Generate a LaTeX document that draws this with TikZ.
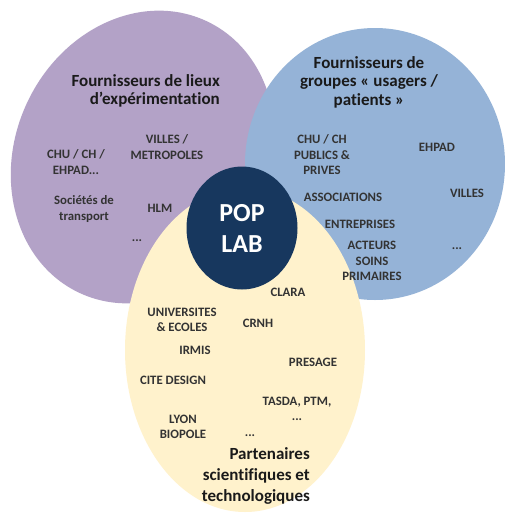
\documentclass[tikz,border=0pt]{standalone}
\usepackage{fontspec}
\setmainfont{Carlito}[Ligatures=NoCommon]
\usetikzlibrary{shapes.geometric}
\definecolor{lieuxpurple}{HTML}{B3A2C7}
\definecolor{groupesblue}{HTML}{95B3D7}
\definecolor{partyellow}{HTML}{FFF2CC}
\definecolor{popnavy}{HTML}{17375E}
\definecolor{titletext}{HTML}{1A1A1A}
\definecolor{labeltext}{HTML}{333333}

\begin{document}
\begin{tikzpicture}[x=1pt,y=-1pt,
    zone/.style={ellipse,inner sep=0pt},
    titre/.style={font=\bfseries\fontsize{17}{18.5}\selectfont,text=titletext,inner sep=0pt},
    lbl/.style={font=\bfseries\fontsize{12.8}{15.5}\selectfont,text=labeltext,align=center,inner sep=0pt}]
                    \useasboundingbox[fill=white] (0,0) rectangle (505,515);

                    \node[zone,fill=lieuxpurple,minimum width=256pt,minimum height=300pt,rotate=-25] at (143,157) (lieux) {};
                    \node[zone,fill=groupesblue,minimum width=260pt,minimum height=272pt] at (375,164) (groupes) {};
                    \node[zone,fill=partyellow,minimum width=240pt,minimum height=324pt] at (245,350) (partenaires) {};
                    \node[zone,fill=popnavy,minimum width=111pt,minimum height=123pt,text=white,align=center,
                          font=\bfseries\fontsize{26}{31}\selectfont] at (242,228) (poplab) {POP\\LAB};

                    \node[titre,align=right,anchor=east] at (220,91) (tlieux) {Fournisseurs de lieux\\d’expérimentation};
                    \node[titre,align=center] at (369,82) (tgroupes) {Fournisseurs de\\groupes « usagers /\\patients »};
                    \node[titre,align=right,anchor=east,font=\bfseries\fontsize{17}{21}\selectfont] at (310,476) (tpartenaires) {Partenaires\\scientifiques et\\technologiques};

                    \node[lbl] at (76,162) (chu) {CHU / CH /\\EHPAD...};
                    \node[lbl] at (167,147) (villes) {VILLES /\\METROPOLES};
                    \node[lbl] at (84,209) (transport) {Sociétés de\\transport};
                    \node[lbl] at (160,208) (hlm) {HLM};
                    \node[lbl,anchor=base] at (137,241) (autreslieux) {...};

                    \node[lbl] at (322,155) (chupub) {CHU / CH\\PUBLICS \&\\PRIVES};
                    \node[lbl] at (437,147) (ehpad) {EHPAD};
                    \node[lbl] at (343,197) (assoc) {ASSOCIATIONS};
                    \node[lbl] at (467,193) (villesgr) {VILLES};
                    \node[lbl] at (360,224) (entreprises) {ENTREPRISES};
                    \node[lbl] at (372,261) (acteurs) {ACTEURS\\SOINS\\PRIMAIRES};
                    \node[lbl,anchor=base] at (457,249) (autresgr) {...};

                    \node[lbl] at (288,292) (clara) {CLARA};
                    \node[lbl] at (182,320) (univ) {UNIVERSITES\\\& ECOLES};
                    \node[lbl] at (258,323) (crnh) {CRNH};
                    \node[lbl] at (195,350) (irmis) {IRMIS};
                    \node[lbl] at (313,362) (presage) {PRESAGE};
                    \node[lbl] at (173,380) (citedesign) {CITE DESIGN};
                    \node[lbl] at (297,409) (tasda) {TASDA, PTM,\\...};
                    \node[lbl] at (183,427) (lyon) {LYON\\BIOPOLE};
                    \node[lbl,anchor=base] at (250,436) (autrespart) {...};
                \end{tikzpicture}
\end{document}
